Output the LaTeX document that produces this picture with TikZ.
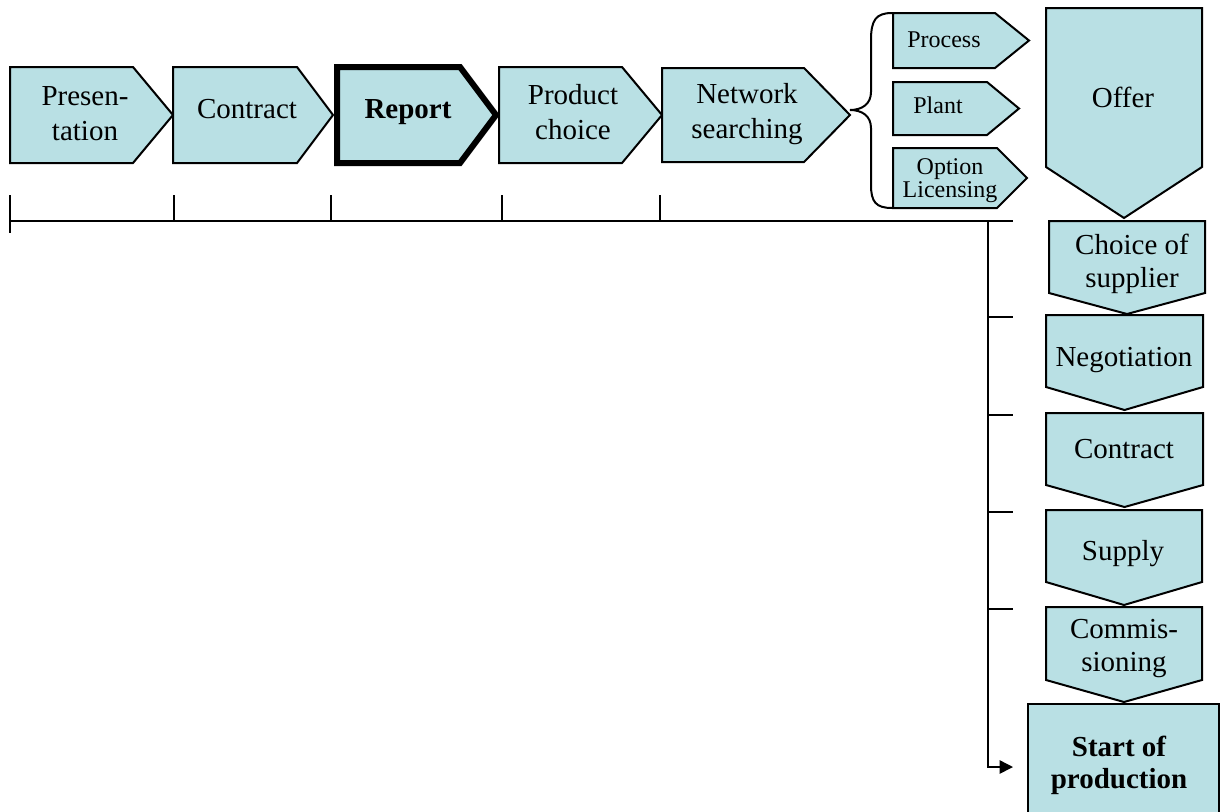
\documentclass[tikz,border=0pt]{standalone}
\usepackage{fontspec}
\setmainfont{Liberation Serif}
\usetikzlibrary{arrows.meta}
\definecolor{boxfill}{RGB}{185,224,228}
\tikzset{
  shapeline/.style={draw=black, fill=boxfill, line width=1.5pt, line join=miter},
  boldline/.style={draw=black, fill=boxfill, line width=4.5pt, line join=miter},
  bigtext/.style={font=\fontsize{21.75}{26.25}\selectfont, align=center, inner sep=0pt, anchor=base},
  vtext/.style={font=\fontsize{21.75}{24.5}\selectfont, align=center, inner sep=0pt, anchor=base},
  smalltext/.style={font=\fontsize{18}{17}\selectfont, align=center, inner sep=0pt, anchor=base},
  axis/.style={draw=black, line width=1.1pt},
}
\newcommand\chevright[6]{%
  \path[#1] (#2,#3) -- (#5,#3) -- (#6,{(#3+#4)/2}) -- (#5,#4) -- (#2,#4) -- cycle;}
\newcommand\chevdown[6]{%
  \path[#1] (#2,#4) -- (#3,#4) -- (#3,#5) -- ({(#2+#3)/2},#6) -- (#2,#5) -- cycle;}
\begin{document}
\begin{tikzpicture}[x=0.75pt, y=-0.75pt]
\useasboundingbox (0,0) rectangle (1220,811);
\clip (0,0) rectangle (1220,811);
% top row
\chevright{shapeline}{10}{67}{163}{133}{173}
\chevright{shapeline}{173}{67}{163}{297}{333}
\chevright{boldline}{337}{67}{163}{460}{496}
\chevright{shapeline}{499}{67}{163}{622}{662}
\chevright{shapeline}{662}{68}{162}{804}{850}
\node[bigtext] (presentation) at (85,140) {Presen-\\tation};
\node[bigtext] (contract1) at (247,118) {Contract};
\node[bigtext, font=\fontsize{21.75}{26.25}\selectfont\bfseries] (report) at (408,118) {Report};
\node[bigtext] (product) at (573,139) {Product\\choice};
\node[bigtext] (network) at (747,138) {Network\\searching};
% brace
\draw[line width=1.5pt] (892,13) .. controls (876,13) and (871,20) .. (871,40) -- (871,92)
  .. controls (871,104) and (862,110) .. (850,110)
  .. controls (862,110) and (871,116) .. (871,128) -- (871,185)
  .. controls (871,202) and (876,208) .. (892,208);
% small chevrons
\chevright{shapeline}{893}{13}{68}{995}{1029}
\chevright{shapeline}{893}{82}{135}{987}{1019}
\chevright{shapeline}{893}{148}{208}{997}{1027}
\node[smalltext] (process) at (944,47) {Process};
\node[smalltext] (plant) at (938,113) {Plant};
\begin{scope}
\clip (893,148) rectangle (1027,207);
\node[smalltext] (option) at (950,197) {Option\\Licensing};
\end{scope}
% vertical chain
\chevdown{shapeline}{1046}{1202}{8}{167}{218}
\chevdown{shapeline}{1049}{1205}{221}{293}{314}
\chevdown{shapeline}{1046}{1203}{315}{387}{410}
\chevdown{shapeline}{1046}{1203}{413}{485}{507}
\chevdown{shapeline}{1046}{1202}{510}{582}{605}
\chevdown{shapeline}{1046}{1202}{607}{680}{702}
\path[shapeline] (1028,704) rectangle (1219,840);
\node[vtext] (offer) at (1123,107) {Offer};
\node[vtext] (choice) at (1132,287) {Choice of\\supplier};
\node[vtext] (negotiation) at (1124,366) {Negotiation};
\node[vtext] (contract2) at (1124,458) {Contract};
\node[vtext] (supply) at (1123,560) {Supply};
\node[vtext] (commissioning) at (1124,671) {Commis-\\sioning};
\node[vtext, font=\fontsize{21.75}{23.5}\selectfont\bfseries] (start) at (1119,788) {Start of\\production};
% timeline
\coordinate (h0) at (10,221);
\coordinate (h1) at (1013,221);
\coordinate (l0a) at (10,195);  \coordinate (l0b) at (10,233);
\coordinate (t1a) at (174,195); \coordinate (t1b) at (174,221);
\coordinate (t2a) at (331,195); \coordinate (t2b) at (331,221);
\coordinate (t3a) at (502,195); \coordinate (t3b) at (502,221);
\coordinate (t4a) at (660,195); \coordinate (t4b) at (660,221);
\draw[axis] (h0) -- (h1);
\draw[axis] (l0a) -- (l0b);
\draw[axis] (t1a) -- (t1b);
\draw[axis] (t2a) -- (t2b);
\draw[axis] (t3a) -- (t3b);
\draw[axis] (t4a) -- (t4b);
\coordinate (vtop) at (988,221);
\coordinate (vend) at (1013,767);
\draw[axis, -{Triangle[length=10pt,width=10pt]}] (vtop) |- (vend);
\foreach \yy/\nm in {317/a,415/b,512/c,609/d}{
  \coordinate (s\nm a) at (988,\yy);
  \coordinate (s\nm b) at (1013,\yy);
  \draw[axis] (s\nm a) -- (s\nm b);
}
\end{tikzpicture}
\end{document}
